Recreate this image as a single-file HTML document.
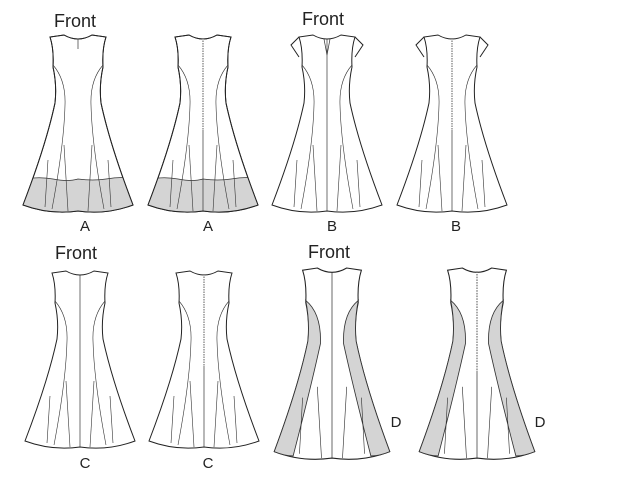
<!DOCTYPE html>
<html><head><meta charset="utf-8"><style>
html,body{margin:0;padding:0;background:#fff;}
svg{display:block}
text{font-family:"Liberation Sans",sans-serif;fill:#222;}
</style></head><body>
<svg width="620" height="482" viewBox="0 0 620 482" xmlns="http://www.w3.org/2000/svg">
<defs>
  <path id="body" d="M-14,0 Q0,8 14,0 L28,2 Q24,14 25,32 Q21,50 23,68 Q32,110 55,170 Q28,180 0,176 Q-28,180 -55,170 Q-32,110 -23,68 Q-21,50 -25,32 Q-24,14 -28,2 Z"/>
  <g id="seams" fill="none" stroke="#333" stroke-width="0.6">
    <path d="M-25,30 Q-12,45 -13,70 Q-14,110 -26,174"/>
    <path d="M25,30 Q12,45 13,70 Q14,110 26,174"/>
    <path d="M-30,125 L-33,172"/><path d="M-14,110 L-10,176"/>
    <path d="M30,125 L33,172"/><path d="M14,110 L10,176"/>
  </g>
  <clipPath id="cp"><use href="#body"/></clipPath>
  <g id="dpanels" fill="#d4d4d4" stroke="#333" stroke-width="0.8">
    <path d="M-25,30 Q-21,50 -23,68 Q-32,110 -55,170 Q-45,174 -37,174 Q-20,110 -11,70 Q-10,42 -25,30 Z"/>
    <path d="M25,30 Q21,50 23,68 Q32,110 55,170 Q45,174 37,174 Q20,110 11,70 Q10,42 25,30 Z"/>
  </g>
</defs>

<!-- A front -->
<g transform="translate(78,35)">
  <use href="#body" fill="#fff" stroke="#222" stroke-width="1"/>
  <path clip-path="url(#cp)" d="M-60,145 Q-40,141 -25,144 Q-10,147 0,144 Q15,146 28,144 Q45,141 60,144 L60,185 L-60,185 Z" fill="#d4d4d4" stroke="#333" stroke-width="0.8"/>
  <use href="#body" fill="none" stroke="#222" stroke-width="1"/>
  <use href="#seams"/>
  <line x1="0" y1="4" x2="0" y2="14" stroke="#333" stroke-width="0.7"/>
</g>
<!-- A back -->
<g transform="translate(203,35)">
  <use href="#body" fill="#fff" stroke="#222" stroke-width="1"/>
  <path clip-path="url(#cp)" d="M-60,145 Q-40,141 -25,144 Q-10,147 0,144 Q15,146 28,144 Q45,141 60,144 L60,185 L-60,185 Z" fill="#d4d4d4" stroke="#333" stroke-width="0.8"/>
  <use href="#body" fill="none" stroke="#222" stroke-width="1"/>
  <use href="#seams"/>
  <line x1="0" y1="3" x2="0" y2="95" stroke="#777" stroke-width="1.2" stroke-dasharray="1.5,1"/>
  <line x1="0" y1="95" x2="0" y2="176" stroke="#333" stroke-width="0.7"/>
</g>
<!-- B front -->
<g transform="translate(327,35)">
  <use href="#body" fill="#fff" stroke="#222" stroke-width="1"/>
  <path d="M-28,2 L-36,10 L-28,22 M28,2 L36,10 L28,22" fill="none" stroke="#222" stroke-width="1"/>
  <use href="#seams"/>
  <line x1="0" y1="4" x2="0" y2="176" stroke="#333" stroke-width="0.7"/>
  <path d="M-3,4 L0,20 L3,4" fill="none" stroke="#333" stroke-width="0.7"/>
</g>
<!-- B back -->
<g transform="translate(452,35)">
  <use href="#body" fill="#fff" stroke="#222" stroke-width="1"/>
  <path d="M-28,2 L-36,10 L-28,22 M28,2 L36,10 L28,22" fill="none" stroke="#222" stroke-width="1"/>
  <use href="#seams"/>
  <line x1="0" y1="3" x2="0" y2="95" stroke="#777" stroke-width="1.2" stroke-dasharray="1.5,1"/>
  <line x1="0" y1="95" x2="0" y2="176" stroke="#333" stroke-width="0.7"/>
</g>
<!-- C front -->
<g transform="translate(80,271)">
  <use href="#body" fill="#fff" stroke="#222" stroke-width="1"/>
  <use href="#seams"/>
  <line x1="0" y1="4" x2="0" y2="176" stroke="#333" stroke-width="0.7"/>
</g>
<!-- C back -->
<g transform="translate(204,271)">
  <use href="#body" fill="#fff" stroke="#222" stroke-width="1"/>
  <use href="#seams"/>
  <line x1="0" y1="3" x2="0" y2="95" stroke="#777" stroke-width="1.2" stroke-dasharray="1.5,1"/>
  <line x1="0" y1="95" x2="0" y2="176" stroke="#333" stroke-width="0.7"/>
</g>
<!-- D front -->
<g transform="translate(332,268) scale(1.05,1.08)">
  <use href="#body" fill="#fff" stroke="#222" stroke-width="1"/>
  <use href="#dpanels"/>
  <path d="M-28,120 L-31,172 M28,120 L31,172 M-14,110 L-10,176 M14,110 L10,176" stroke="#333" stroke-width="0.6" fill="none"/>
  <line x1="0" y1="4" x2="0" y2="176" stroke="#333" stroke-width="0.7"/>
</g>
<!-- D back -->
<g transform="translate(477,268) scale(1.05,1.08)">
  <use href="#body" fill="#fff" stroke="#222" stroke-width="1"/>
  <use href="#dpanels"/>
  <path d="M-28,120 L-31,172 M28,120 L31,172 M-14,110 L-10,176 M14,110 L10,176" stroke="#333" stroke-width="0.6" fill="none"/>
  <line x1="0" y1="3" x2="0" y2="95" stroke="#777" stroke-width="1.2" stroke-dasharray="1.5,1"/>
  <line x1="0" y1="95" x2="0" y2="176" stroke="#333" stroke-width="0.7"/>
</g>

<text x="54" y="27" font-size="18">Front</text>
<text x="302" y="25" font-size="18">Front</text>
<text x="55" y="259" font-size="18">Front</text>
<text x="308" y="258" font-size="18">Front</text>

<text x="85" y="231" font-size="15" text-anchor="middle">A</text>
<text x="208" y="231" font-size="15" text-anchor="middle">A</text>
<text x="332" y="231" font-size="15" text-anchor="middle">B</text>
<text x="456" y="231" font-size="15" text-anchor="middle">B</text>
<text x="85" y="468" font-size="15" text-anchor="middle">C</text>
<text x="208" y="468" font-size="15" text-anchor="middle">C</text>
<text x="396" y="427" font-size="15" text-anchor="middle">D</text>
<text x="540" y="427" font-size="15" text-anchor="middle">D</text>
</svg>
</body></html>
